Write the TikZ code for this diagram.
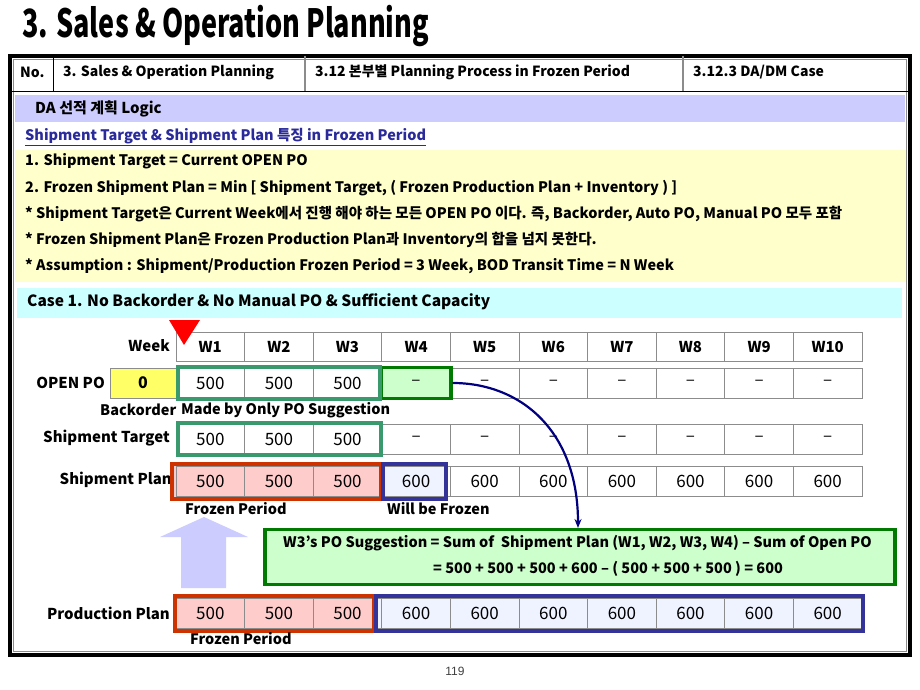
\documentclass[tikz,border=0pt]{standalone}
\usepackage{fontspec}
\setmainfont{Noto Sans CJK KR}
\newfontfamily\pgfont{Liberation Sans}
\usetikzlibrary{arrows.meta}
\definecolor{cellgray}{HTML}{8C8C8C}
\definecolor{teal}{HTML}{3A9A6E}
\definecolor{dkgreen}{HTML}{007A00}
\definecolor{ltgreen}{HTML}{CCFFCC}
\definecolor{frzred}{HTML}{CC3300}
\definecolor{pinkf}{HTML}{FFCCCC}
\definecolor{frzblue}{HTML}{333399}
\definecolor{ltblue}{HTML}{EEF3FF}
\definecolor{lav}{HTML}{CCCCFF}
\definecolor{ltyellow}{HTML}{FFFFCC}
\definecolor{ltcyan}{HTML}{CCFFFF}
\definecolor{boyellow}{HTML}{FFFF66}
\definecolor{navy}{HTML}{000080}
\definecolor{headblue}{HTML}{2A2A9A}
\begin{document}
\begin{tikzpicture}[x=1pt,y=-1pt,
  cell/.style={draw=cellgray, line width=0.8pt, minimum width=68.6pt, minimum height=30pt, inner sep=0pt, font=\fontsize{17}{17}\selectfont},
  hd/.style={cell, minimum height=29pt, font=\bfseries\fontsize{15}{15}\selectfont},
  lbl/.style={anchor=east, inner sep=0pt, font=\bfseries\fontsize{15}{15}\selectfont},
  txt/.style={anchor=west, inner sep=0pt, font=\bfseries\fontsize{14.5}{14.5}\selectfont},
  htxt/.style={anchor=west, inner sep=0pt, font=\bfseries\fontsize{14}{14}\selectfont},
  hlframe/.style={line width=3.4pt}
]
\useasboundingbox (0,0) rectangle (920,690);
\fill[white] (0,0) rectangle (920,690);
% title
\node[anchor=base west, inner sep=0pt] (title) at (22,38) {\scalebox{0.73}[1.05]{\bfseries\fontsize{37}{37}\selectfont 3. Sales \& Operation Planning}};
% frame
\draw[line width=3.2pt] (10,56) rectangle (910,655);
\draw[cellgray, line width=0.6pt] (13.5,59.5) rectangle (906.5,651.5);
% header row
\draw[line width=0.8pt] (10,91) -- (910,91);
\draw[line width=0.8pt] (53,56) -- (53,91);
\draw[cellgray, line width=1.2pt] (305,56) -- (305,91);
\draw[cellgray, line width=1.2pt] (683,56) -- (683,91);
\node[htxt] (h1) at (20,72) {No.};
\node[htxt] (h2) at (63,72) {3. Sales \& Operation Planning};
\node[htxt] (h3) at (315,72) {3.12 본부별 Planning Process in Frozen Period};
\node[htxt] (h4) at (693,72) {3.12.3 DA/DM Case};
% DA bar
\fill[lav] (15,95) rectangle (905,122);
\node[anchor=west, inner sep=0pt, font=\bfseries\fontsize{15}{15}\selectfont] (da) at (35,108.5) {DA 선적 계획 Logic};
\node[txt, text=headblue] (feat) at (25,137) {\underline{Shipment Target \& Shipment Plan 특징 in Frozen Period}};
% yellow box
\fill[ltyellow] (15,150) rectangle (906,282);
\node[txt] (l1) at (25,161) {1. Shipment Target = Current OPEN PO};
\node[txt] (l2) at (25,188) {2. Frozen Shipment Plan = Min [ Shipment Target, ( Frozen Production Plan + Inventory ) ]};
\node[txt] (l3) at (25,214) {* Shipment Target은 Current Week에서 진행 해야 하는 모든 OPEN PO 이다. 즉, Backorder, Auto PO, Manual PO 모두 포함};
\node[txt] (l4) at (25,240) {* Frozen Shipment Plan은 Frozen Production Plan과 Inventory의 합을 넘지 못한다.};
\node[txt] (l5) at (25,266) {* Assumption : Shipment/Production Frozen Period = 3 Week, BOD Transit Time = N Week};
% case bar
\fill[ltcyan] (17,288) rectangle (902,318);
\node[anchor=west, inner sep=0pt, font=\bfseries\fontsize{15.5}{15.5}\selectfont] (case) at (27,302) {Case 1. No Backorder \& No Manual PO \& Sufficient Capacity};
% week header
\foreach \i in {1,...,10} {
  \pgfmathsetmacro\cx{176+68.6*(\i-0.5)}
  \node[hd] (wk\i) at (\cx,347) {W\i};
}
\node[lbl] (weeklbl) at (170,346) {Week};
\fill[red] (169,320) -- (200,320) -- (184,345) -- cycle;
% OPEN PO row
\node[lbl] (polbl) at (105,383) {OPEN PO};
\node[cell, fill=boyellow, minimum width=66pt, font=\bfseries\fontsize{16}{16}\selectfont] (bo) at (143,383) {0};
\foreach \i/\v in {1/500,2/500,3/500,5/–,6/–,7/–,8/–,9/–,10/–} {
  \pgfmathsetmacro\cx{176+68.6*(\i-0.5)}
  \node[cell] (po\i) at (\cx,383) {\v};
}
\node[cell, fill=ltgreen, draw=dkgreen, line width=3.4pt, minimum width=70pt, minimum height=31pt] (po4) at (416,383) {–};
\draw[teal, hlframe] (178,367) rectangle (380,399);
\node[txt] (bolbl) at (100,410) {Backorder};
\node[txt] (mbl) at (181,410) {Made by Only PO Suggestion};
% Shipment Target row
\node[lbl] (stlbl) at (170,438) {Shipment Target};
\foreach \i/\v in {1/500,2/500,3/500,4/–,5/–,6/–,7/–,8/–,9/–,10/–} {
  \pgfmathsetmacro\cx{176+68.6*(\i-0.5)}
  \node[cell] (st\i) at (\cx,439) {\v};
}
\draw[teal, hlframe] (178,423) rectangle (381,455);
% Shipment Plan row
\node[lbl] (splbl) at (172,480) {Shipment Plan};
\fill[pinkf] (172,464) rectangle (381,499);
\fill[ltblue] (383,464) rectangle (446,499);
\foreach \i/\v in {1/500,2/500,3/500,4/600,5/600,6/600,7/600,8/600,9/600,10/600} {
  \pgfmathsetmacro\cx{176+68.6*(\i-0.5)}
  \node[cell] (sp\i) at (\cx,481) {\v};
}
\draw[frzred, hlframe] (172,464) rectangle (381,499);
\draw[frzblue, hlframe] (383,464) rectangle (446,499);
\node[txt] (fp1) at (185,509) {Frozen Period};
\node[txt] (wbf) at (387,509) {Will be Frozen};
% block arrow
\fill[lav] (181,588) -- (181,537) -- (160,537) -- (204,517) -- (248,537) -- (226,537) -- (226,588) -- cycle;
% callout
\node[draw=dkgreen, fill=ltgreen, line width=3.2pt, minimum width=630pt, minimum height=55pt, inner sep=0pt] (callout) at (580,557) {};
\node[txt] (c1) at (283,543) {W3’s PO Suggestion = Sum of~ Shipment Plan (W1, W2, W3, W4) – Sum of Open PO};
\node[txt] (c2) at (433,569) {= 500 + 500 + 500 + 600 – ( 500 + 500 + 500 ) = 600};
% Production plan row
\node[lbl] (pplbl) at (170,613) {Production Plan};
\fill[pinkf] (175,596) rectangle (374,631);
\fill[ltblue] (376,596) rectangle (863,631);
\foreach \i/\v in {1/500,2/500,3/500,4/600,5/600,6/600,7/600,8/600,9/600,10/600} {
  \pgfmathsetmacro\cx{176+68.6*(\i-0.5)}
  \node[cell] (pp\i) at (\cx,613) {\v};
}
\draw[frzred, hlframe] (175,596) rectangle (374,631);
\draw[frzblue, hlframe] (376,596) rectangle (863,631);
\node[txt] (fp2) at (190,639) {Frozen Period};
% curved arrow
\coordinate (arrEnd) at (578,528);
\draw[navy, line width=2.2pt, -{Stealth[length=9pt,width=7pt]}] (po4.east) .. controls (520,383) and (578,430) .. (arrEnd);
% page number
\node[inner sep=0pt, text=black!75, font=\pgfont\fontsize{12}{12}\selectfont] (pg) at (455,671) {119};
\end{tikzpicture}
\end{document}
